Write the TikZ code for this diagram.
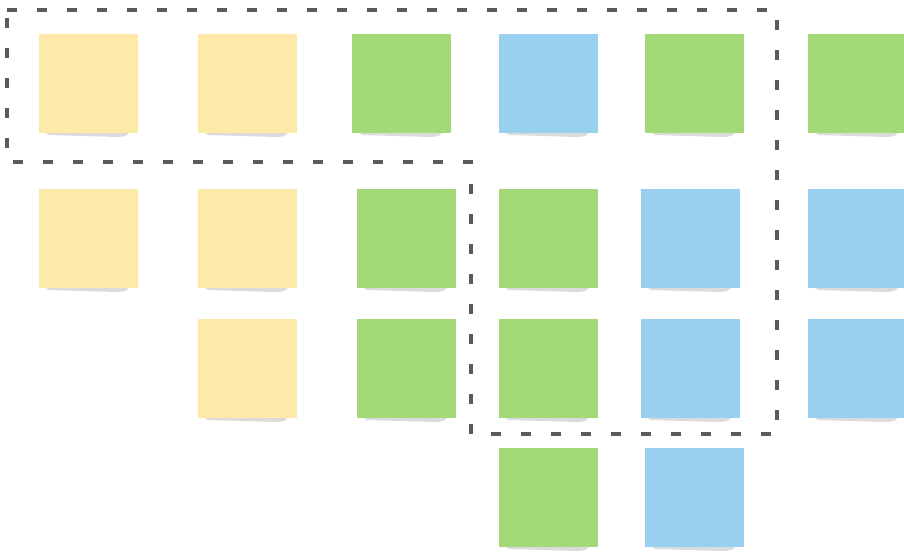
\documentclass[tikz,border=0pt]{standalone}
\usetikzlibrary{calc}
\definecolor{cyellow}{HTML}{FDE9A8}
\definecolor{cgreen}{HTML}{A3D977}
\definecolor{cblue}{HTML}{99D0F0}
\definecolor{cdash}{HTML}{5A5A5A}
\tikzset{
  card/.style={rectangle, inner sep=0pt, minimum width=99pt, minimum height=99pt, anchor=north west, fill=#1},
  cardshadow/.style={fill=black, opacity=0.14},
  groupline/.style={draw=cdash, line width=4pt, dash pattern=on 10pt off 20pt, line join=miter}
}
\newcommand{\mycard}[4]{%
  \fill[cardshadow] (#3+4,#4+97) -- (#3+90,#4+97) .. controls (#3+90,#4+101) and (#3+86,#4+103) .. (#3+78,#4+103) -- (#3+10,#4+101) -- cycle;
  \node[card=#2] (#1) at (#3,#4) {};
}
\begin{document}
\begin{tikzpicture}[x=1pt,y=-1pt]
\useasboundingbox (0,0) rectangle (904,552);
\fill[white] (0,0) rectangle (904,552);
\begin{scope}
\clip (0,0) rectangle (904,552);
% row 1
\mycard{a1}{cyellow}{39}{34}
\mycard{a2}{cyellow}{198}{34}
\mycard{a3}{cgreen}{352}{34}
\mycard{a4}{cblue}{499}{34}
\mycard{a5}{cgreen}{645}{34}
\mycard{a6}{cgreen}{808}{34}
% row 2
\mycard{b1}{cyellow}{39}{189}
\mycard{b2}{cyellow}{198}{189}
\mycard{b3}{cgreen}{357}{189}
\mycard{b4}{cgreen}{499}{189}
\mycard{b5}{cblue}{641}{189}
\mycard{b6}{cblue}{808}{189}
% row 3
\mycard{c2}{cyellow}{198}{319}
\mycard{c3}{cgreen}{357}{319}
\mycard{c4}{cgreen}{499}{319}
\mycard{c5}{cblue}{641}{319}
\mycard{c6}{cblue}{808}{319}
% row 4
\mycard{d4}{cgreen}{499}{448}
\mycard{d5}{cblue}{645}{448}
\end{scope}
% dashed group outline
\coordinate (p1) at (7,10);
\coordinate (p2) at (777,10);
\coordinate (p3) at (777,434);
\coordinate (p4) at (471,434);
\coordinate (p5) at (471,162);
\coordinate (p6) at (7,162);
\draw[groupline] (p1) -- (p2) -- (p3) -- (p4) -- (p5) -- (p6) -- cycle;
\end{tikzpicture}
\end{document}
